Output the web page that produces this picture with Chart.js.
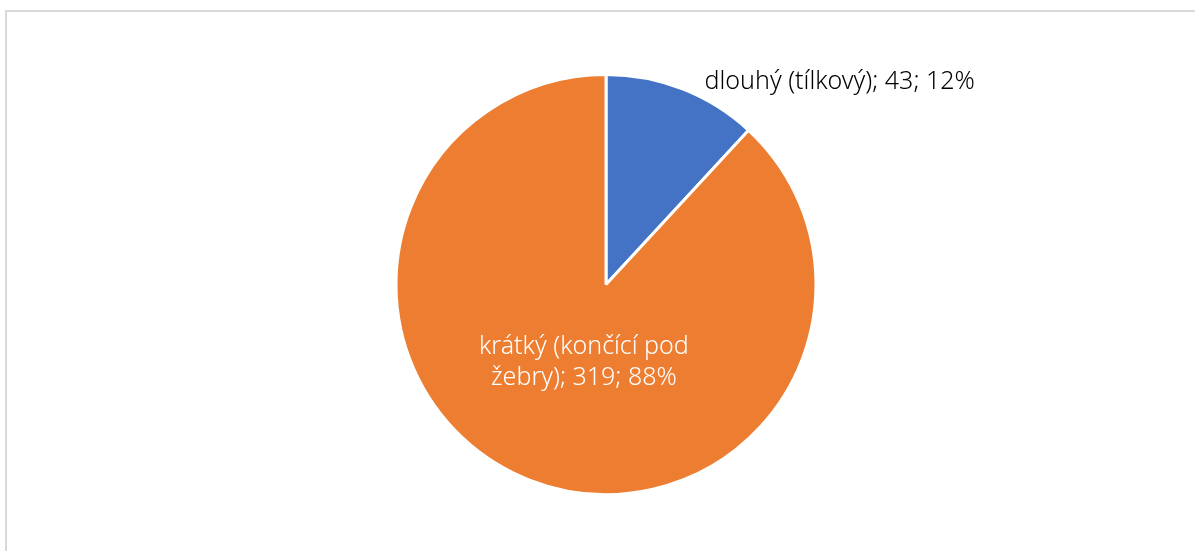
<!DOCTYPE html>
<html>
<head>
<meta charset="utf-8">
<script src="https://cdn.jsdelivr.net/npm/chart.js@4"></script>
<style>
  html, body { margin: 0; padding: 0; background: #fff; overflow: hidden; }
  .frame { position: absolute; left: 5px; top: 10px; width: 1210px; height: 560px; border: 2px solid #d9d9d9; box-sizing: border-box; }
  .wrap { position: absolute; left: 0; top: 0; width: 1195px; height: 551px; }
</style>
</head>
<body>
<div class="frame"></div>
<div class="wrap"><canvas id="pie"></canvas></div>
<script>
const categories = ['dlouhý (tílkový)', 'krátký (končící pod žebry)'];
const counts = [43, 319];
const sliceColors = ['#4472C4', '#ED7D31'];

const total = counts.reduce((a, b) => a + b, 0);

// data labels: first slice outside, second slice inside (two lines)
const labelPlugin = {
  id: 'sliceLabels',
  afterDatasetsDraw(chart) {
    const ctx = chart.ctx;
    const arcs = chart.getDatasetMeta(0).data;
    ctx.save();
    ctx.font = '300 25px "Noto Sans", sans-serif';
    ctx.textBaseline = 'middle';
    arcs.forEach((arc, i) => {
      const { x, y, startAngle, endAngle, outerRadius } = arc.getProps(['x', 'y', 'startAngle', 'endAngle', 'outerRadius'], true);
      const mid = (startAngle + endAngle) / 2;
      const pct = Math.round(counts[i] / total * 100) + '%';
      if (i === 0) {
        const px = x + Math.cos(mid) * outerRadius + 22;
        const py = y + Math.sin(mid) * outerRadius - 7;
        ctx.fillStyle = '#000';
        ctx.textAlign = 'left';
        ctx.fillText(categories[i] + '; ' + counts[i] + '; ' + pct, px, py);
      } else {
        const px = x + Math.cos(mid) * outerRadius * 0.38 + 7;
        const py = y + Math.sin(mid) * outerRadius * 0.38 + 3;
        ctx.fillStyle = '#fff';
        ctx.textAlign = 'center';
        ctx.fillText('krátký (končící pod', px, py - 15);
        ctx.fillText('žebry); ' + counts[i] + '; ' + pct, px, py + 16);
      }
    });
    ctx.restore();
  }
};

new Chart(document.getElementById('pie'), {
  type: 'pie',
  data: {
    labels: categories,
    datasets: [{
      data: counts,
      backgroundColor: sliceColors,
      borderColor: '#ffffff',
      borderWidth: 3
    }]
  },
  options: {
    responsive: true,
    maintainAspectRatio: false,
    animation: false,
    layout: { padding: { left: 17, right: 0, top: 73, bottom: 55 } },
    plugins: {
      legend: { display: false },
      tooltip: { enabled: false }
    }
  },
  plugins: [labelPlugin]
});
</script>
</body>
</html>
